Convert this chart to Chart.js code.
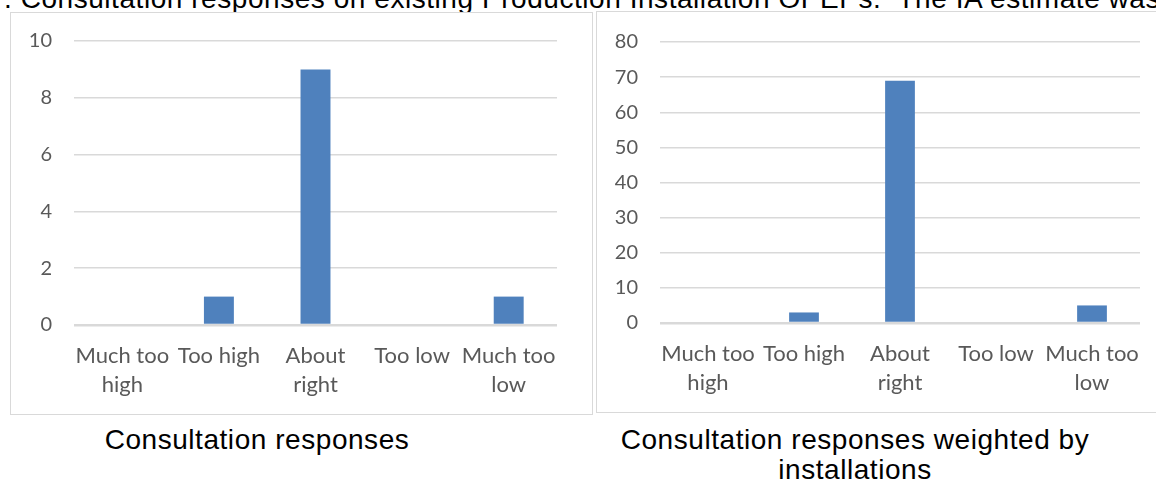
<!DOCTYPE html>
<html>
<head>
<meta charset="utf-8">
<script src="https://cdn.jsdelivr.net/npm/chart.js@4.4.1/dist/chart.umd.min.js"></script>
<style>
    body { margin: 0; width: 1156px; height: 484px; overflow: hidden; background: #fff; position: relative; }
    .box { position: absolute; border: 1px solid #d9d9d9; box-sizing: border-box; background: #fff; }
    .box canvas { display: block; }
    .txt { position: absolute; font-family: "Liberation Sans", Arial, sans-serif; font-size: 28px; letter-spacing: 0.55px; line-height: 30px; color: #000; white-space: nowrap; }
</style>
</head>
<body>
<div class="txt" id="title" style="left:4px; top:-16px;">. Consultation responses on existing Production Installation OPEPs.&nbsp; The IA estimate was</div>
<div class="box" style="left:10px; top:12px; width:583px; height:403px;"><canvas id="chartLeft"></canvas></div>
<div class="box" style="left:596px; top:11px; width:580px; height:402px;"><canvas id="chartRight"></canvas></div>
<div class="txt" style="left:0; width:514px; top:425px; text-align:center;">Consultation responses</div>
<div class="txt" style="left:555px; width:600px; top:425px; text-align:center;">Consultation responses weighted by<br>installations</div>
<script>
var categories = [["Much too", "high"], ["Too high"], ["About", "right"], ["Too low"], ["Much too", "low"]];
var responses = [0, 1, 9, 0, 1];
var weighted = [0, 3, 69, 0, 5];
var ticksLeft = { max: 10, step: 2 };
var ticksRight = { max: 80, step: 10 };

function makeChart(id, values, yTicks, w, h, plotTop, plotBottom, padRight) {
    var canvas = document.getElementById(id);
    canvas.width = w;
    canvas.height = h;
    return new Chart(canvas, {
        type: 'bar',
        data: {
            labels: categories,
            datasets: [{
                data: values,
                backgroundColor: '#4f81bd',
                categoryPercentage: 1,
                barPercentage: 0.31
            }]
        },
        options: {
            responsive: false,
            animation: false,
            layout: { padding: { top: 0, right: padRight, left: 0, bottom: 0 } },
            plugins: { legend: { display: false }, tooltip: { enabled: false } },
            scales: {
                x: {
                    grid: { display: false, drawTicks: false },
                    border: { display: false },
                    ticks: {
                        color: '#595959',
                        font: { family: 'Lato', size: 22, lineHeight: 1.32 },
                        padding: 16,
                        maxRotation: 0,
                        autoSkip: false
                    },
                    afterFit: function (scale) { scale.height = h - plotBottom; }
                },
                y: {
                    min: 0,
                    max: yTicks.max,
                    grid: {
                        color: '#d9d9d9',
                        lineWidth: function (ctx) { return ctx.tick && ctx.tick.value === 0 ? 2.5 : 1.5; },
                        drawTicks: false
                    },
                    border: { display: false },
                    ticks: {
                        stepSize: yTicks.step,
                        color: '#595959',
                        font: { family: 'Lato', size: 20 },
                        padding: 22
                    },
                    afterFit: function (scale) {
                        scale.width = 63;
                        scale.paddingTop = plotTop;
                    }
                }
            }
        }
    });
}

makeChart('chartLeft', responses, ticksLeft, 581, 401, 28, 312, 35);
makeChart('chartRight', weighted, ticksRight, 560, 400, 30, 311, 17);
</script>
</body>
</html>
